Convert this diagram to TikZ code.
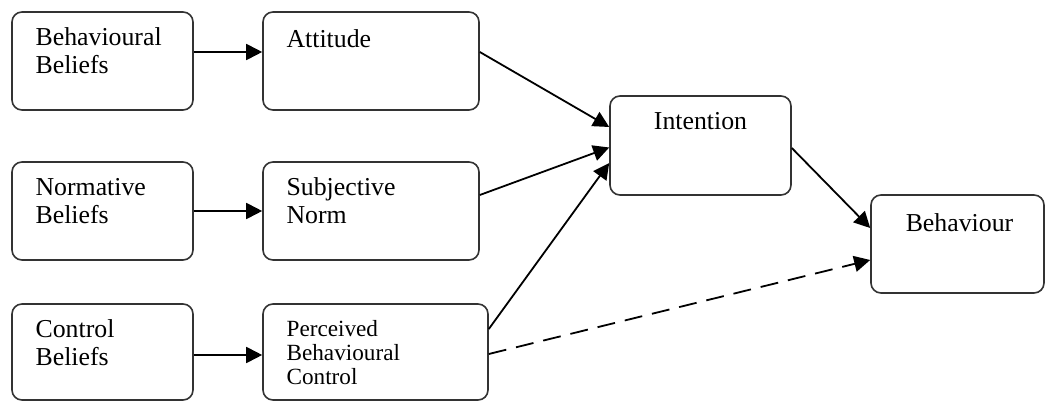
\documentclass[tikz,border=0pt]{standalone}
\usepackage{fontspec}
\setmainfont{Liberation Serif}
\usetikzlibrary{arrows.meta,fit}

\tikzset{
  box/.style={draw=black!80, line width=0.8pt, rounded corners=5pt, inner sep=0pt},
  txt/.style={inner sep=0pt, align=left, font=\fontsize{12.9}{14}\selectfont},
  smalltxt/.style={inner sep=0pt, align=left, font=\fontsize{11.6}{12}\selectfont},
  arr/.style={-{Triangle[length=8pt,width=8pt]}, line width=0.9pt},
}

\begin{document}
\begin{tikzpicture}[x=0.5pt,y=-0.5pt]
				\useasboundingbox (0,0) rectangle (1045,401);
				
				% boxes
				\node[box, fit={(12,12) (193,110)}] (bb) {};
				\node[box, fit={(263,12) (479,110)}] (att) {};
				\node[box, fit={(12,162) (193,260)}] (nb) {};
				\node[box, fit={(263,162) (479,260)}] (sn) {};
				\node[box, fit={(12,304) (193,400)}] (cb) {};
				\node[box, fit={(263,304) (488,400)}] (pbc) {};
				\node[box, fit={(610,96) (791,195)}] (int) {};
				\node[box, fit={(871,195) (1044,293)}] (beh) {};
				
				% texts
				\node[txt, anchor=north west] (bbt) at ([shift={(12pt,-8.2pt)}]bb.north west) {Behavioural\\Beliefs};
				\node[txt, anchor=north west] (attt) at ([shift={(12pt,-9.2pt)}]att.north west) {Attitude};
				\node[txt, anchor=north west] (nbt) at ([shift={(12pt,-8.2pt)}]nb.north west) {Normative\\Beliefs};
				\node[txt, anchor=north west] (snt) at ([shift={(12pt,-8.2pt)}]sn.north west) {Subjective\\Norm};
				\node[txt, anchor=north west] (cbt) at ([shift={(12pt,-8.2pt)}]cb.north west) {Control\\Beliefs};
				\node[smalltxt, anchor=north west] (pbct) at ([shift={(12pt,-8.6pt)}]pbc.north west) {Perceived\\Behavioural\\Control};
				\node[txt, anchor=base] (intt) at ([yshift=-17pt]int.north) {Intention};
				\node[txt, anchor=base] (beht) at ([shift={(1pt,-18.5pt)}]beh.north) {Behaviour};
				
				% arrows
				\draw[arr] ([yshift=4.5pt]bb.east) -- ([yshift=4.5pt]att.west);
				\draw[arr] (nb.east) -- (sn.west);
				\draw[arr] ([yshift=-1.5pt]cb.east) -- ([yshift=-1.5pt]pbc.west);
				\draw[arr] ([yshift=4.5pt]att.east) -- ([yshift=9.25pt]int.west);
				\draw[arr] ([yshift=8pt]sn.east) -- ([yshift=-1pt]int.west);
				\draw[arr] ([yshift=11.5pt]pbc.east) -- ([yshift=-8.75pt]int.west);
				\draw[arr] ([yshift=-1.25pt]int.east) -- ([yshift=8pt]beh.west);
				\draw[arr, dash pattern=on 9pt off 5pt] ([yshift=-1pt]pbc.east) -- ([yshift=-8pt]beh.west);
			\end{tikzpicture}
\end{document}
